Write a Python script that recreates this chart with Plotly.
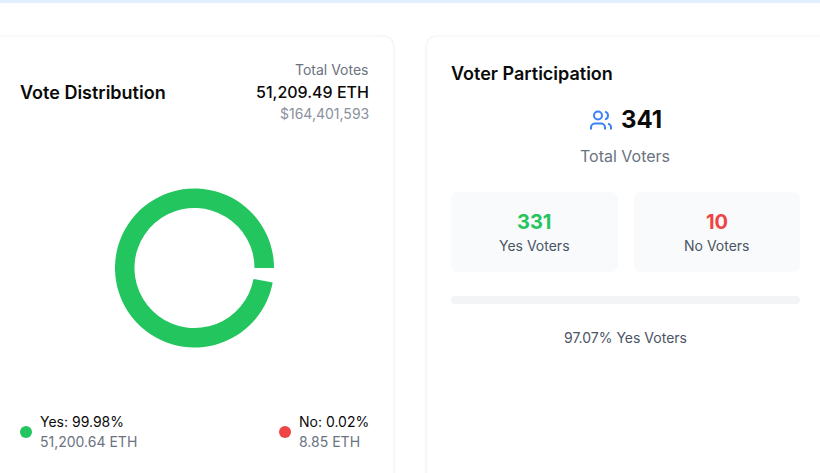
import plotly.graph_objects as go

# Data
vote_labels = ["Yes", "No"]
vote_eth = [51200.64, 8.85]
vote_colors = ["#22c55e", "#ef4444"]
vote_pct = ["99.98%", "0.02%"]
vote_eth_text = ["51,200.64 ETH", "8.85 ETH"]
total_eth = "51,209.49 ETH"
total_usd = "$164,401,593"
total_voters = "341"
yes_voters = "331"
no_voters = "10"
yes_voter_share = "97.07% Yes Voters"

W, H = 820, 473
FONT = "Inter"
CX0, CX1, CY0, CY1 = 115, 274, 188.5, 347.5
GAP_DEG = 10.5  # padding between the slices, as in the reference


def rr(x0, y0, x1, y1, r):
    return (f"M{x0+r},{y0} L{x1-r},{y0} Q{x1},{y0} {x1},{y0+r} L{x1},{y1-r} Q{x1},{y1} {x1-r},{y1} "
            f"L{x0+r},{y1} Q{x0},{y1} {x0},{y1-r} L{x0},{y0+r} Q{x0},{y0} {x0+r},{y0} Z")


shapes = []


def box(x0, y0, x1, y1, r, fill, line="rgba(0,0,0,0)", lw=0):
    shapes.append(dict(type="path", path=rr(x0, y0, x1, y1, r), xref="x", yref="y", fillcolor=fill,
                       line=dict(color=line, width=lw), layer="below"))


# top strip
shapes.append(dict(type="rect", x0=0, x1=W, y0=0, y1=3, xref="x", yref="y", fillcolor="#e3eefe",
                   line=dict(width=0), layer="below"))
# cards with soft shadows
for (a, b) in [(-14, 393), (427, 834)]:
    box(a - 3, 35, b + 3, 500, 15, "#fcfcfc")
    box(a - 2, 35, b + 2, 500, 14, "#f9f9fa")
    box(a - 1, 35.5, b + 1, 500, 13, "#f5f5f6")
    box(a, 36.5, b, 500, 12, "#ffffff")
# inner stat cards
box(451, 192, 618, 272, 8, "#f9fafb")
box(634, 192, 800, 272, 8, "#f9fafb")
# progress track
box(451, 296, 800, 304, 4, "#f3f4f6")

# users icon (24 unit viewbox at px offset)
ox, oy = 589, 108.5


def P(*cmds):
    out = []
    for c, pts in cmds:
        out.append(c + " ".join(f"{ox+pts[i]},{oy+pts[i+1]}" for i in range(0, len(pts), 2)))
    return " ".join(out)


icon = [
    P(("M", [16, 21]), ("L", [16, 19]), ("C", [16, 16.8, 14.2, 15, 12, 15]), ("L", [6, 15]),
      ("C", [3.8, 15, 2, 16.8, 2, 19]), ("L", [2, 21])),
    P(("M", [22, 21]), ("L", [22, 19]), ("C", [22, 17.2, 20.8, 15.6, 19, 15.13])),
    P(("M", [16, 3.13]), ("C", [17.8, 3.6, 19, 5.2, 19, 7]), ("C", [19, 8.8, 17.8, 10.4, 16, 10.88])),
]
for p in icon:
    shapes.append(dict(type="path", path=p, xref="x", yref="y", line=dict(color="#3b82f6", width=2),
                       fillcolor="rgba(0,0,0,0)", layer="above"))
shapes.append(dict(type="circle", x0=ox + 5, x1=ox + 13, y0=oy + 3, y1=oy + 11, xref="x", yref="y",
                   line=dict(color="#3b82f6", width=2), fillcolor="rgba(0,0,0,0)"))

annotations = []


def T(x, y, s, size, color, anchor="left", weight=400):
    annotations.append(dict(x=x, y=y, xref="x", yref="y", text=s, showarrow=False, xanchor=anchor,
                            yanchor="middle", borderpad=0, borderwidth=0,
                            font=dict(family=FONT, size=size, color=color, weight=weight)))


T(20, 92, "Vote Distribution", 18, "#0a0a0a", weight=600)
T(369, 69.2, "Total Votes", 14, "#6b7280", "right")
T(369, 92, total_eth, 16, "#0a0a0a", "right", 500)
T(369, 113.6, total_usd, 14, "#8a919e", "right")
T(451, 73, "Voter Participation", 18, "#0a0a0a", weight=600)
T(621, 119, total_voters, 24, "#0a0a0a", weight=700)
T(625.2, 156, "Total Voters", 16, "#6b7280", "center")
T(534.2, 222, yes_voters, 20, vote_colors[0], "center", 700)
T(534.5, 245.4, "Yes Voters", 14, "#4b5563", "center")
T(717, 222, no_voters, 20, vote_colors[1], "center", 700)
T(717, 245.4, "No Voters", 14, "#4b5563", "center")
T(625.5, 337.4, yes_voter_share, 14, "#4b5563", "center")

for x, lab, pct, eth in zip([40, 299], vote_labels, vote_pct, vote_eth_text):
    T(x, 421.4, f"{lab}: {pct}", 14, "#0a0a0a")
    T(x, 441.4, eth, 14, "#6b7280")

fig = go.Figure()
# legend dots
fig.add_trace(go.Scatter(x=[26, 285], y=[432, 432], mode="markers", hoverinfo="skip", showlegend=False,
                         marker=dict(size=12, color=vote_colors, line=dict(width=0))))

gap_value = sum(vote_eth) * GAP_DEG / (360 - GAP_DEG)
fig.add_trace(go.Pie(values=vote_eth + [gap_value], labels=vote_labels + ["gap"], sort=False,
                     direction="clockwise", rotation=90 + GAP_DEG, hole=0.755, textinfo="none",
                     hoverinfo="skip", showlegend=False,
                     marker=dict(colors=vote_colors + ["rgba(0,0,0,0)"], line=dict(width=0)),
                     domain=dict(x=[CX0 / W, CX1 / W], y=[1 - CY1 / H, 1 - CY0 / H])))

fig.update_layout(
    width=W, height=H, margin=dict(l=0, r=0, t=0, b=0), paper_bgcolor="#ffffff", plot_bgcolor="rgba(0,0,0,0)",
    xaxis=dict(range=[0, W], visible=False, fixedrange=True),
    yaxis=dict(range=[H, 0], visible=False, fixedrange=True),
    shapes=shapes, annotations=annotations, showlegend=False,
)
fig.write_html("out.html", config=dict(displayModeBar=False),
               post_script="document.body.style.margin='0';document.body.style.overflow='hidden';")
